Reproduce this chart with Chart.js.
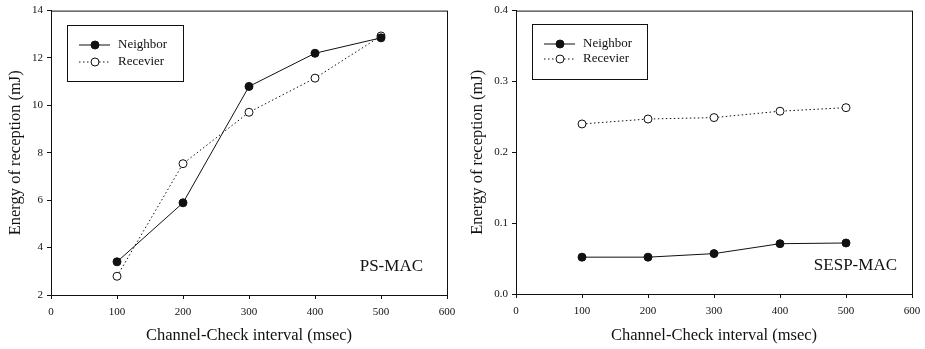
<!DOCTYPE html>
<html>
<head>
<meta charset="utf-8">
<script src="https://cdn.jsdelivr.net/npm/chart.js@4/dist/chart.umd.min.js"></script>
<style>
  body { margin: 0; background: #fff; overflow: hidden; }
  canvas { position: absolute; top: 0; }
</style>
</head>
<body>
<canvas id="psChart" width="462" height="349" style="left:0"></canvas>
<canvas id="sespChart" width="463" height="349" style="left:462px"></canvas>
<script>
const intervals = [100, 200, 300, 400, 500];
const seriesNames = ['Neighbor', 'Recevier'];

const psNeighbor = [3.40, 5.89, 10.80, 12.20, 12.85];
const psReceiver = [2.79, 7.54, 9.71, 11.15, 12.93];

const sespNeighbor = [0.052, 0.052, 0.057, 0.071, 0.072];
const sespReceiver = [0.240, 0.247, 0.249, 0.258, 0.263];

const serif = '"Liberation Serif", "Times New Roman", serif';
const ink = '#111';

// frame around plot, legend box and the protocol name
const decorations = {
    id: 'decorations',
    afterDraw(chart, args, opts) {
        const ctx = chart.ctx;
        const a = chart.chartArea;
        ctx.save();
        ctx.strokeStyle = ink;
        ctx.lineWidth = 1;
        ctx.strokeRect(a.left + 0.5, a.top + 0.5, a.right - a.left, a.bottom - a.top);

        const b = opts.box;
        ctx.strokeRect(b.x + 0.5, b.y + 0.5, b.w, b.h);
        chart.data.datasets.forEach((ds, i) => {
            const y = b.y + opts.rows[i];
            ctx.beginPath();
            ctx.setLineDash(ds.borderDash || []);
            ctx.moveTo(b.x + 12, y);
            ctx.lineTo(b.x + 43, y);
            ctx.stroke();
            ctx.setLineDash([]);
            ctx.beginPath();
            ctx.arc(b.x + 28, y, 4, 0, Math.PI * 2);
            ctx.fillStyle = ds.pointBackgroundColor;
            ctx.fill();
            ctx.stroke();
            ctx.fillStyle = ink;
            ctx.font = '13px ' + serif;
            ctx.textBaseline = 'middle';
            ctx.textAlign = 'left';
            ctx.fillText(ds.label, b.x + 51, y);
        });

        ctx.font = '17px ' + serif;
        ctx.textAlign = 'right';
        ctx.textBaseline = 'middle';
        ctx.fillStyle = ink;
        ctx.fillText(opts.name, a.right - opts.nameRight, a.bottom - 28);
        ctx.restore();
    }
};

function makeChart(id, neighbor, receiver, yMin, yMax, yStep, digits, plotLeft, rightPad, xHeight, box, rows, name, nameRight) {
    return new Chart(document.getElementById(id), {
        type: 'line',
        data: {
            datasets: [{
                label: seriesNames[0],
                data: intervals.map((x, i) => ({ x: x, y: neighbor[i] })),
                borderColor: ink,
                borderWidth: 1,
                pointRadius: 4,
                pointBackgroundColor: ink,
                pointBorderColor: ink,
                pointBorderWidth: 1
            }, {
                label: seriesNames[1],
                data: intervals.map((x, i) => ({ x: x, y: receiver[i] })),
                borderColor: ink,
                borderWidth: 1,
                borderDash: [1.5, 2.5],
                pointRadius: 4,
                pointBackgroundColor: '#fff',
                pointBorderColor: ink,
                pointBorderWidth: 1
            }]
        },
        options: {
            responsive: false,
            animation: false,
            layout: { padding: { top: 10, right: rightPad, left: 0, bottom: 0 } },
            plugins: {
                legend: { display: false },
                tooltip: { enabled: false },
                decorations: { box: box, rows: rows, name: name, nameRight: nameRight }
            },
            scales: {
                x: {
                    type: 'linear',
                    min: 0,
                    max: 600,
                    ticks: { stepSize: 100, color: ink, padding: 7, font: { family: serif, size: 11 } },
                    grid: { drawOnChartArea: false, tickLength: 4, color: ink },
                    border: { display: true, color: ink },
                    title: { display: true, text: 'Channel-Check interval (msec)', color: ink,
                        font: { family: serif, size: 16.5 }, padding: { top: 0, bottom: 3 } },
                    afterFit(scale) {
                        scale.height = xHeight;
                        // the "600" label fits inside the right margin already
                        scale.paddingRight = 8;
                    }
                },
                y: {
                    min: yMin,
                    max: yMax,
                    ticks: { stepSize: yStep, color: ink, padding: 4, font: { family: serif, size: 11 },
                        callback: v => v.toFixed(digits) },
                    grid: { drawOnChartArea: false, tickLength: 4, color: ink },
                    border: { display: true, color: ink },
                    title: { display: true, text: 'Energy of reception (mJ)', color: ink,
                        font: { family: serif, size: 16.5 }, padding: { top: 6, bottom: 0 } },
                    afterFit(scale) { scale.width = plotLeft; }
                }
            }
        },
        plugins: [decorations]
    });
}

makeChart('psChart', psNeighbor, psReceiver, 2, 14, 2, 0,
    51, 15, 54, { x: 67, y: 25, w: 116, h: 56 }, [20, 37], 'PS-MAC', 24);
makeChart('sespChart', sespNeighbor, sespReceiver, 0, 0.4, 0.1, 1,
    54, 13, 55, { x: 70, y: 24, w: 115, h: 55 }, [20, 35], 'SESP-MAC', 15);
</script>
</body>
</html>
